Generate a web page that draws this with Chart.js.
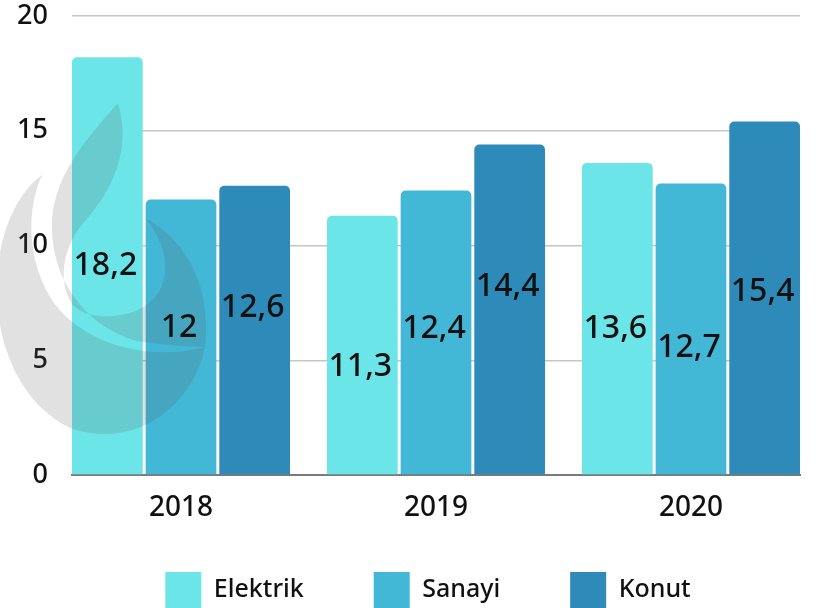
<!DOCTYPE html>
<html>
<head>
<meta charset="utf-8">
<script src="https://cdn.jsdelivr.net/npm/chart.js@4/dist/chart.umd.min.js"></script>
<style>
  html, body { margin: 0; padding: 0; background: #ffffff; }
  #wrap { width: 817px; height: 608px; position: relative; }
</style>
</head>
<body>
<div id="wrap"><canvas id="c" width="817" height="608"></canvas></div>
<script>
// ---- data ----
const categories = ['2018', '2019', '2020'];
const seriesNames = ['Elektrik', 'Sanayi', 'Konut'];
const elektrik = [18.2, 11.3, 13.6];
const sanayi = [12, 12.4, 12.7];
const konut = [12.6, 14.4, 15.4];
const yTicks = [0, 5, 10, 15, 20];

// ---- styles ----
const colors = ['#6be5e8', '#42b7d6', '#2d8ab9'];
const FONT = '"Noto Sans", "DejaVu Sans", sans-serif';

function toPoints(values) {
  return values.map((v, i) => ({ x: i, y: v }));
}

const legendShift = {
  id: 'legendShift',
  afterLayout(chart, args, opts) {
    const lg = chart.legend;
    if (lg) { lg.left += opts.dx; lg.right += opts.dx; }
  }
};

const watermarkAndLabels = {
  id: 'watermarkAndLabels',
  afterDatasetsDraw(chart, args, opts) {
    const ctx = chart.ctx;
    // decorative watermark (flame logo)
    ctx.save();
    ctx.fillStyle = 'rgba(95,95,95,0.19)';
    ctx.beginPath();
    ctx.moveTo(42, 175);
    ctx.bezierCurveTo(-20, 220, -25, 380, 70, 428);
    ctx.bezierCurveTo(140, 452, 195, 400, 205, 347);
    ctx.bezierCurveTo(150, 362, 80, 345, 50, 297);
    ctx.bezierCurveTo(25, 255, 28, 205, 42, 175);
    ctx.closePath();
    ctx.fill();
    ctx.beginPath();
    ctx.moveTo(118, 103);
    ctx.bezierCurveTo(85, 140, 50, 180, 52, 230);
    ctx.bezierCurveTo(54, 300, 110, 340, 150, 343);
    ctx.bezierCurveTo(180, 346, 195, 347, 205, 347);
    ctx.bezierCurveTo(212, 290, 188, 240, 145, 218);
    ctx.bezierCurveTo(176, 255, 172, 300, 130, 313);
    ctx.bezierCurveTo(105, 320, 82, 316, 72, 304);
    ctx.bezierCurveTo(57, 280, 63, 245, 86, 220);
    ctx.bezierCurveTo(112, 190, 132, 150, 118, 103);
    ctx.closePath();
    ctx.fill();
    ctx.restore();

    // value labels
    ctx.save();
    const size = opts.fontSize;
    ctx.font = '500 ' + size + 'px ' + FONT;
    ctx.fillStyle = '#111111';
    ctx.textAlign = 'center';
    ctx.textBaseline = 'alphabetic';
    chart.data.datasets.forEach((ds, di) => {
      const meta = chart.getDatasetMeta(di);
      meta.data.forEach((el, i) => {
        const v = ds.data[i].y;
        const mid = (el.y + el.base) / 2 + opts.nudge[di][i];
        ctx.fillText(String(v).replace('.', ','), el.x - 2, mid + size * 0.36);
      });
    });
    ctx.restore();
  }
};

const chart = new Chart(document.getElementById('c'), {
  type: 'bar',
  data: {
    datasets: [
      { label: seriesNames[0], data: toPoints(elektrik), backgroundColor: colors[0] },
      { label: seriesNames[1], data: toPoints(sanayi), backgroundColor: colors[1] },
      { label: seriesNames[2], data: toPoints(konut), backgroundColor: colors[2] }
    ]
  },
  options: {
    responsive: false,
    animation: false,
    events: [],
    layout: { padding: { top: 16, right: 17, left: 0, bottom: -10 } },
    datasets: {
      bar: {
        categoryPercentage: 0.8665,
        barPercentage: 0.96,
        borderRadius: 5,
        borderSkipped: 'start'
      }
    },
    scales: {
      x: {
        type: 'linear',
        offset: false,
        min: -0.4275,
        max: 2.4275,
        afterBuildTicks(scale) {
          scale.ticks = categories.map((c, i) => ({ value: i }));
        },
        afterFit(scale) { scale.height = 27; scale.paddingLeft = 0; scale.paddingRight = 0; },
        grid: { display: false, drawTicks: false },
        border: { display: true, color: '#7a7a7a', width: 2 },
        ticks: {
          mirror: true,
          padding: -50,
          color: '#111111',
          font: { family: FONT, size: 28, weight: 500 },
          maxRotation: 0,
          autoSkip: false,
          callback: (v) => categories[v] !== undefined ? categories[v] : ''
        }
      },
      y: {
        min: 0,
        max: 20,
        afterBuildTicks(scale) {
          scale.ticks = yTicks.map(v => ({ value: v }));
        },
        afterFit(scale) { scale.width = 72; scale.paddingTop = 0; scale.paddingBottom = 0; },
        grid: { color: '#c6c6c6', lineWidth: 1.5, drawTicks: false },
        border: { display: false },
        ticks: {
          padding: 24,
          color: '#111111',
          font: { family: FONT, size: 27, weight: 500 }
        }
      }
    },
    plugins: {
      legend: {
        position: 'bottom',
        labels: {
          boxWidth: 36,
          boxHeight: 36,
          padding: 70,
          color: '#111111',
          font: { family: FONT, size: 25, weight: 500 }
        }
      },
      tooltip: { enabled: false },
      legendShift: { dx: 28 },
      watermarkAndLabels: {
        fontSize: 32,
        nudge: [[-2.5, 20, 8], [-11, -6, 17], [-25, -25, -8]]
      }
    }
  },
  plugins: [legendShift, watermarkAndLabels]
});
</script>
</body>
</html>
